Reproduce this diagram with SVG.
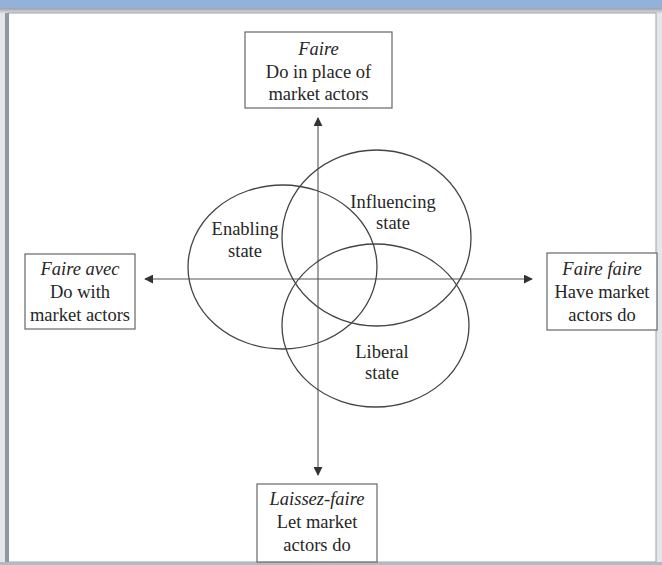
<svg xmlns="http://www.w3.org/2000/svg" width="662" height="565" viewBox="0 0 662 565">
<style>
.box{fill:#fff;stroke:#666;stroke-width:1.2}
.t{font-family:"Liberation Serif","Times New Roman",serif;font-size:18.5px;fill:#262626;text-anchor:middle}
.i{font-style:italic}
.ax{stroke:#555;stroke-width:1.1;fill:none}
.el{fill:none;stroke:#444;stroke-width:1.3}
</style>
<defs>
<linearGradient id="sh" x1="0" y1="0" x2="0" y2="1">
<stop offset="0" stop-color="#9aa0a8"/><stop offset="1" stop-color="#e8eaed"/>
</linearGradient>
<marker id="ah" viewBox="0 0 10 10" refX="9" refY="5" markerWidth="9" markerHeight="9" markerUnits="userSpaceOnUse" orient="auto">
<path d="M0,0 L10,5 L0,10 z" fill="#333"/>
</marker>
</defs>
<g id="frame">
<rect x="0" y="0" width="662" height="565" fill="#e4e6ea"/>
<rect x="0" y="0" width="662" height="8" fill="#93b2da"/>
<rect x="0" y="8" width="662" height="6" fill="url(#sh)"/>
<rect x="8" y="13" width="648" height="549" fill="#fff" stroke="#9aa2ad" stroke-width="1"/>
<rect x="5" y="13" width="4" height="549" fill="#8d98a7"/>
<rect x="0" y="562" width="662" height="3" fill="#b5bac1"/>
</g>
<g id="connectors">
<line class="ax" x1="318" y1="279" x2="318" y2="118" marker-end="url(#ah)"/>
<line class="ax" x1="318" y1="279" x2="318" y2="475" marker-end="url(#ah)"/>
<line class="ax" x1="318" y1="279" x2="145" y2="279" marker-end="url(#ah)"/>
<line class="ax" x1="318" y1="279" x2="532" y2="279" marker-end="url(#ah)"/>
</g>
<g id="enabling">
<ellipse class="el" cx="282.5" cy="267" rx="94.5" ry="82"/>
<text class="t" x="245" y="235">Enabling</text>
<text class="t" x="245" y="257">state</text>
</g>
<g id="influencing">
<ellipse class="el" cx="376.5" cy="238" rx="94.5" ry="88"/>
<text class="t" x="393" y="208">Influencing</text>
<text class="t" x="393" y="229">state</text>
</g>
<g id="liberal">
<ellipse class="el" cx="375.5" cy="325.5" rx="93.5" ry="81.5"/>
<text class="t" x="382" y="358">Liberal</text>
<text class="t" x="382" y="379">state</text>
</g>
<g id="faire">
<rect class="box" x="245" y="32" width="147" height="76"/>
<text class="t i" x="318.5" y="55">Faire</text>
<text class="t" x="318.5" y="78">Do in place of</text>
<text class="t" x="318.5" y="100">market actors</text>
</g>
<g id="faire-avec">
<rect class="box" x="25" y="254" width="110" height="75"/>
<text class="t i" x="80" y="275">Faire avec</text>
<text class="t" x="80" y="298">Do with</text>
<text class="t" x="80" y="321">market actors</text>
</g>
<g id="faire-faire">
<rect class="box" x="547" y="253" width="110" height="77"/>
<text class="t i" x="602" y="275">Faire faire</text>
<text class="t" x="602" y="298">Have market</text>
<text class="t" x="602" y="321">actors do</text>
</g>
<g id="laissez-faire">
<rect class="box" x="257" y="484" width="120" height="78"/>
<text class="t i" x="317" y="505">Laissez-faire</text>
<text class="t" x="317" y="528">Let market</text>
<text class="t" x="317" y="551">actors do</text>
</g>
</svg>
